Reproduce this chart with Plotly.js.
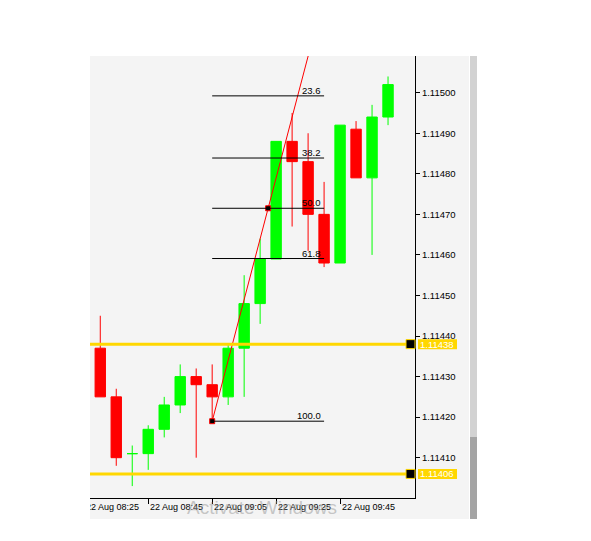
<!DOCTYPE html>
<html><head><meta charset="utf-8">
<script src="https://cdn.plot.ly/plotly-3.0.1.min.js"></script>
<style>html,body{margin:0;padding:0;background:#fff;}#chart{width:591px;height:541px;clip-path:inset(0 0 0 90px);}</style>
</head><body><div id="chart"></div>
<script>
// ---- data ----
const times = ['2019-08-22 08:30','2019-08-22 08:35','2019-08-22 08:40','2019-08-22 08:45','2019-08-22 08:50','2019-08-22 08:55','2019-08-22 09:00','2019-08-22 09:05','2019-08-22 09:10','2019-08-22 09:15','2019-08-22 09:20','2019-08-22 09:25','2019-08-22 09:30','2019-08-22 09:35','2019-08-22 09:40','2019-08-22 09:45','2019-08-22 09:50','2019-08-22 09:55','2019-08-22 10:00'];
const openP  = [1.11437,1.11425,1.11411,1.11411,1.11417,1.11423,1.11430,1.11428,1.11425,1.11437,1.11448,1.11459,1.11488,1.11483,1.11470,1.11458,1.11491,1.11479,1.11494];
const highP  = [1.11445,1.11427,1.11413,1.11418,1.11425,1.11433,1.11432,1.11433,1.11438,1.11455,1.11464,1.11488,1.11495,1.11490,1.11478,1.11492,1.11493,1.11497,1.11504];
const lowP   = [1.11425,1.11408,1.11403,1.11407,1.11415,1.11421,1.11410,1.11419,1.11423,1.11425,1.11443,1.11459,1.11467,1.11461,1.11457,1.11458,1.11479,1.11460,1.11492];
const closeP = [1.11425,1.11410,1.11411,1.11417,1.11423,1.11430,1.11428,1.11425,1.11437,1.11448,1.11459,1.11488,1.11483,1.11470,1.11458,1.11492,1.11479,1.11494,1.11502];

const xTickVals = ['2019-08-22 08:25','2019-08-22 08:45','2019-08-22 09:05','2019-08-22 09:25','2019-08-22 09:45'];
const xTickText = ['22 Aug 08:25','22 Aug 08:45','22 Aug 09:05','22 Aug 09:25','22 Aug 09:45'];
const yTickVals = [1.1141,1.1142,1.1143,1.1144,1.1145,1.1146,1.1147,1.1148,1.1149,1.1150];
const yTickText = ['1.11410','1.11420','1.11430','1.11440','1.11450','1.11460','1.11470','1.11480','1.11490','1.11500'];

const hLinePrices = [1.11438, 1.11406];
const hLineLabels = ['1.11438', '1.11406'];

const fibTimes  = ['2019-08-22 09:05','2019-08-22 09:40'];
const fibPrices = [1.11419, 1.11524];   // low (100%), high (0%)
const fibLevels = [0.236, 0.382, 0.5, 0.618, 1.0];
const fibLabels = ['23.6','38.2','50.0','61.8','100.0'];

// ---- styling ----
const FONT = 'Liberation Sans, Arial, sans-serif';
const GOLD = '#ffd700';

const t0 = new Date(fibTimes[0].replace(' ','T')+':00Z').getTime();
const t1 = new Date(fibTimes[1].replace(' ','T')+':00Z').getTime();
const midT = new Date((t0+t1)/2).toISOString().replace('T',' ').replace('Z','');
const fibPrice = l => fibPrices[1] - l*(fibPrices[1]-fibPrices[0]);

const traces = [
  {type:'candlestick', x:times, open:openP, high:highP, low:lowP, close:closeP,
   increasing:{line:{color:'#00ff00',width:1}, fillcolor:'#00ff00'},
   decreasing:{line:{color:'#ff0000',width:1}, fillcolor:'#ff0000'},
   whiskerwidth:0, hoverinfo:'skip'},
  {type:'scatter', mode:'lines', x:fibTimes, y:fibPrices, line:{color:'#ff0000',width:1}, hoverinfo:'skip'},
  {type:'scatter', mode:'markers', x:[fibTimes[0], midT], y:[fibPrices[0], fibPrice(0.5)],
   marker:{symbol:'square', size:5, color:'#000', line:{color:'#ff0000',width:1}}, hoverinfo:'skip', cliponaxis:false}
];

const shapes = [
  {type:'rect', xref:'paper', yref:'paper', x0:0, x1:1.15652, y0:-0.0475, y1:1, fillcolor:'#f4f4f4', line:{width:0}, layer:'below'},
  {type:'rect', xref:'paper', yref:'paper', x0:1.15942, x1:1.17971, y0:0.138, y1:1, fillcolor:'#d2d2d2', line:{width:0}, layer:'below'},
  {type:'rect', xref:'paper', yref:'paper', x0:1.15942, x1:1.17971, y0:-0.0475, y1:0.138, fillcolor:'#a4a4a4', line:{width:0}, layer:'below'}
];
fibLevels.forEach(l => shapes.push({type:'line', xref:'x', yref:'y', x0:fibTimes[0], x1:fibTimes[1], y0:fibPrice(l), y1:fibPrice(l), line:{color:'#000',width:1}, layer:'above'}));
hLinePrices.forEach(p => {
  shapes.push({type:'line', xref:'paper', yref:'y', x0:0, x1:1, y0:p, y1:p, line:{color:GOLD,width:3}, layer:'above'});
  shapes.push({type:'rect', xref:'paper', yref:'y', xsizemode:'pixel', xanchor:1, x0:-9, x1:0, ysizemode:'pixel', yanchor:p, y0:-4.5, y1:4.5, fillcolor:'#000', line:{color:GOLD,width:1}, layer:'above'});
  shapes.push({type:'rect', xref:'paper', yref:'y', xsizemode:'pixel', xanchor:1, x0:3, x1:42, ysizemode:'pixel', yanchor:p, y0:-5, y1:5, fillcolor:GOLD, line:{width:0}, layer:'above'});
});

const annotations = [];
xTickVals.forEach((t,i) => annotations.push({xref:'x', yref:'paper', x:t, y:0, xanchor:'left', yanchor:'top', yshift:-2, text:xTickText[i], showarrow:false, font:{family:FONT,size:9,color:'#000'}}));
fibLevels.forEach((l,i) => annotations.push({xref:'x', yref:'y', x:fibTimes[1], y:fibPrice(l), xanchor:'right', yanchor:'bottom', xshift:-1, yshift:-2, text:fibLabels[i], showarrow:false, font:{family:FONT,size:9.5,color:'#000'}}));
hLinePrices.forEach((p,i) => annotations.push({xref:'paper', yref:'y', x:1, y:p, xanchor:'left', yanchor:'middle', xshift:4, text:hLineLabels[i], showarrow:false, borderpad:0, font:{family:FONT,size:9.5,color:'#fff'}}));
annotations.push({xref:'paper', yref:'paper', x:0.3333, y:-0.0204, xanchor:'left', yanchor:'middle', text:'Activate Windows', showarrow:false, font:{family:'Liberation Sans, Arial, sans-serif', size:19, color:'rgba(150,150,150,0.5)'}});

const layout = {
  width:591, height:541,
  margin:{l:70, r:176, t:56, b:43, pad:0},
  paper_bgcolor:'#ffffff', plot_bgcolor:'rgba(0,0,0,0)',
  showlegend:false, hovermode:false,
  boxgap:0.35, boxgroupgap:0,
  xaxis:{type:'date', range:['2019-08-22 08:20:32','2019-08-22 10:08:26'], rangeslider:{visible:false},
    tickvals:xTickVals, showticklabels:false, ticks:'outside', ticklen:5, tickcolor:'#000', tickwidth:1,
    showline:true, linecolor:'#000', linewidth:1, showgrid:false, zeroline:false, fixedrange:true},
  yaxis:{side:'right', range:[1.1140006, 1.1150905], tickvals:yTickVals, ticktext:yTickText,
    ticks:'outside', ticklen:4, tickcolor:'#000', tickwidth:1, showline:true, linecolor:'#000', linewidth:1,
    showgrid:false, zeroline:false, fixedrange:true, tickfont:{family:FONT,size:9.5,color:'#000'}},
  shapes:shapes, annotations:annotations
};

Plotly.newPlot('chart', traces, layout, {staticPlot:true, displayModeBar:false});
</script></body></html>
